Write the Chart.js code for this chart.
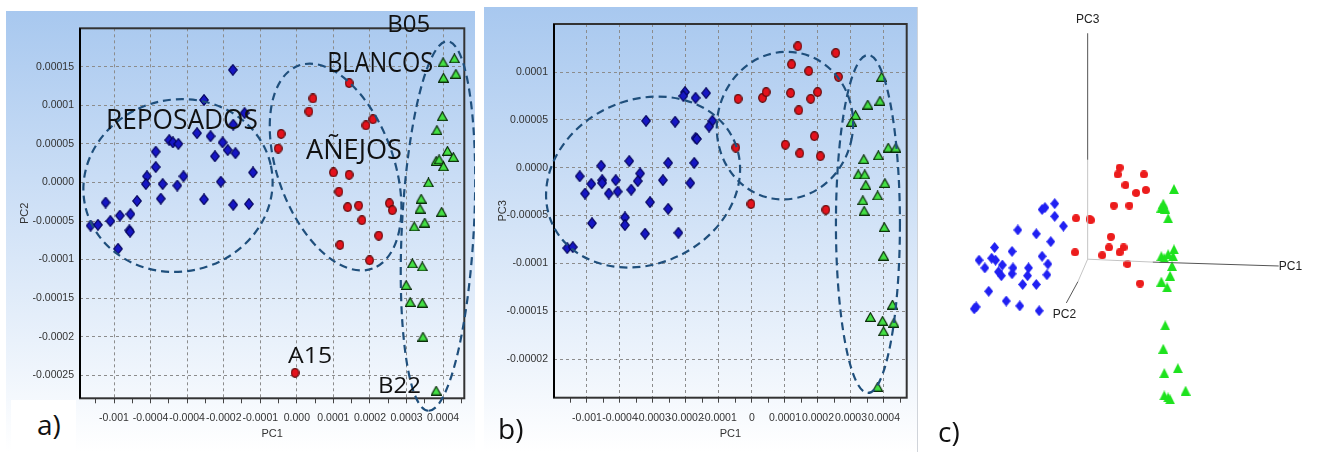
<!DOCTYPE html>
<html>
<head>
<meta charset="utf-8">
<script src="https://cdn.jsdelivr.net/npm/chart.js@4.4.1/dist/chart.umd.min.js"></script>
<style>
  body { margin: 0; width: 1317px; height: 457px; background: #fff; position: relative; overflow: hidden; }
  .panel { position: absolute; }
  #pa { left: 6px; top: 11px; width: 469px; height: 441px; background: linear-gradient(#a8c8ef, #ffffff); }
  #pb { left: 484px; top: 7px; width: 433px; height: 445px; background: linear-gradient(#a8c8ef, #ffffff); border-right: 1px solid #d0d4da; }
  #pc { left: 920px; top: 0; width: 397px; height: 457px; }
  #wa { position: absolute; left: 11px; top: 400px; width: 65px; height: 52px; background: #fff; }
  .tag { position: absolute; font: 28px 'Open Sans', sans-serif; line-height: 28px; color: #111; }
</style>
</head>
<body>
<div class="panel" id="pa"><canvas id="chartA" width="469" height="441"></canvas></div>
<div class="panel" id="pb"><canvas id="chartB" width="433" height="445"></canvas></div>
<div class="panel" id="pc"><canvas id="chartC" width="397" height="457"></canvas></div>
<div id="wa"></div>
<div class="tag" style="left:37px; top:410px;">a)</div>
<div class="tag" style="left:498px; top:414px;">b)</div>
<div class="tag" style="left:938px; top:417px;">c)</div>
<script>
// ---- tick labels ----
const xTickValues = [-5e-4, -4e-4, -3e-4, -2e-4, -1e-4, 0, 1e-4, 2e-4, 3e-4, 4e-4];
const aXTickLabels = ['-0.001', '-0.0004', '-0.0004', '-0.0002', '-0.0001', '0.000', '0.0001', '0.0002', '0.0003', '0.0004'];
const bXTickLabels = ['-0.001', '-0.0004', '-0.0003', '-0.0002', '-0.0001', '0', '0.0001', '0.0002', '0.0003', '0.0004'];
const aYTickValues = [1.5e-4, 1e-4, 5e-5, 0, -5e-5, -1e-4, -1.5e-4, -2e-4, -2.5e-4];
const aYTickLabels = ['0.00015', '0.0001', '0.00005', '0.0000', '-0.00005', '-0.0001', '-0.00015', '-0.0002', '-0.00025'];
const bYTickValues = [1e-4, 5e-5, 0, -5e-5, -1e-4, -1.5e-4, -2e-4];
const bYTickLabels = ['0.0001', '0.00005', '0.0000', '-0.00005', '-0.0001', '-0.00015', '-0.00002'];

// ---- a) PC1 vs PC2 ----
const aReposados = [[-1.75e-4, 1.46e-4], [-2.54e-4, 1.07e-4], [-1.43e-4, 0.90e-4], [-1.74e-4, 0.75e-4], [-2.73e-4, 0.64e-4],
  [-2.36e-4, 0.60e-4], [-3.49e-4, 0.55e-4], [-3.39e-4, 0.52e-4], [-3.24e-4, 0.50e-4], [-2.03e-4, 0.52e-4],
  [-1.89e-4, 0.42e-4], [-1.68e-4, 0.38e-4], [-2.24e-4, 0.34e-4], [-3.86e-4, 0.40e-4], [-3.86e-4, 0.20e-4],
  [-1.20e-4, 0.13e-4], [-4.10e-4, 0.08e-4], [-3.10e-4, 0.08e-4], [-4.13e-4, -0.02e-4], [-3.67e-4, -0.02e-4],
  [-3.27e-4, -0.04e-4], [-2.08e-4, 0.01e-4], [-5.23e-4, -0.26e-4], [-4.37e-4, -0.24e-4], [-3.72e-4, -0.21e-4],
  [-2.54e-4, -0.22e-4], [-1.74e-4, -0.29e-4], [-1.31e-4, -0.28e-4], [-4.84e-4, -0.43e-4], [-4.55e-4, -0.41e-4],
  [-5.10e-4, -0.50e-4], [-5.64e-4, -0.56e-4], [-5.44e-4, -0.55e-4], [-4.58e-4, -0.62e-4], [-4.56e-4, -0.64e-4],
  [-4.89e-4, -0.86e-4]];
const aAnejos = [[1.43e-4, 1.29e-4], [0.44e-4, 1.09e-4], [0.33e-4, 0.92e-4], [2.08e-4, 0.82e-4], [1.89e-4, 0.74e-4],
  [-0.43e-4, 0.63e-4], [-0.51e-4, 0.44e-4], [1.00e-4, 0.13e-4], [1.43e-4, 0.10e-4], [1.15e-4, -0.12e-4],
  [1.39e-4, -0.32e-4], [1.69e-4, -0.30e-4], [2.53e-4, -0.27e-4], [2.61e-4, -0.36e-4], [1.78e-4, -0.49e-4],
  [2.24e-4, -0.69e-4], [1.18e-4, -0.81e-4], [1.99e-4, -1.01e-4], [-0.05e-4, -2.47e-4]];
const aBlancos = [[4.31e-4, 1.61e-4], [4.00e-4, 1.56e-4], [4.01e-4, 1.36e-4], [4.35e-4, 1.41e-4], [3.98e-4, 0.86e-4],
  [3.83e-4, 0.68e-4], [4.12e-4, 0.41e-4], [4.28e-4, 0.33e-4], [3.81e-4, 0.28e-4], [3.89e-4, 0.30e-4],
  [4.01e-4, 0.21e-4], [3.60e-4, 0.00e-4], [3.40e-4, -0.21e-4], [3.37e-4, -0.34e-4], [3.96e-4, -0.38e-4],
  [3.21e-4, -0.57e-4], [3.50e-4, -0.52e-4], [3.16e-4, -1.05e-4], [3.43e-4, -1.09e-4], [2.99e-4, -1.33e-4],
  [3.10e-4, -1.55e-4], [3.43e-4, -1.56e-4], [3.45e-4, -2.00e-4], [3.81e-4, -2.70e-4]];

// ---- b) PC1 vs PC3 ----
const bReposados = [[-2.03e-4, 0.79e-4], [-2.08e-4, 0.75e-4], [-1.71e-4, 0.73e-4], [-1.39e-4, 0.78e-4], [-3.21e-4, 0.49e-4],
  [-2.33e-4, 0.48e-4], [-1.20e-4, 0.49e-4], [-1.30e-4, 0.43e-4], [-1.71e-4, 0.31e-4], [-1.67e-4, 0.30e-4],
  [-4.57e-4, 0.02e-4], [-3.72e-4, 0.07e-4], [-2.54e-4, 0.05e-4], [-1.75e-4, 0.05e-4], [-5.22e-4, -0.09e-4],
  [-4.87e-4, -0.17e-4], [-4.54e-4, -0.13e-4], [-4.54e-4, -0.16e-4], [-4.13e-4, -0.13e-4], [-3.39e-4, -0.06e-4],
  [-3.46e-4, -0.14e-4], [-2.70e-4, -0.13e-4], [-1.87e-4, -0.16e-4], [-5.06e-4, -0.27e-4], [-4.34e-4, -0.27e-4],
  [-4.07e-4, -0.25e-4], [-3.66e-4, -0.23e-4], [-3.09e-4, -0.36e-4], [-2.54e-4, -0.43e-4], [-4.85e-4, -0.58e-4],
  [-3.85e-4, -0.52e-4], [-3.85e-4, -0.60e-4], [-3.24e-4, -0.69e-4], [-2.23e-4, -0.68e-4], [-5.60e-4, -0.84e-4],
  [-5.43e-4, -0.83e-4]];
const bAnejos = [[1.39e-4, 1.27e-4], [2.54e-4, 1.20e-4], [1.20e-4, 1.08e-4], [1.72e-4, 1.01e-4], [2.62e-4, 0.95e-4],
  [-0.42e-4, 0.72e-4], [0.32e-4, 0.73e-4], [0.43e-4, 0.79e-4], [1.17e-4, 0.78e-4], [1.78e-4, 0.72e-4],
  [1.99e-4, 0.79e-4], [1.42e-4, 0.60e-4], [1.89e-4, 0.33e-4], [-0.49e-4, 0.21e-4], [1.01e-4, 0.24e-4],
  [1.45e-4, 0.15e-4], [2.07e-4, 0.12e-4], [-0.03e-4, -0.38e-4], [2.24e-4, -0.44e-4]];
const bBlancos = [[3.93e-4, 0.95e-4], [3.51e-4, 0.66e-4], [3.88e-4, 0.70e-4], [3.14e-4, 0.55e-4], [3.02e-4, 0.48e-4],
  [4.13e-4, 0.21e-4], [4.36e-4, 0.21e-4], [3.83e-4, 0.13e-4], [3.39e-4, 0.09e-4], [3.22e-4, -0.07e-4],
  [3.42e-4, -0.07e-4], [3.45e-4, -0.18e-4], [4.03e-4, -0.16e-4], [3.81e-4, -0.29e-4], [3.36e-4, -0.34e-4],
  [3.40e-4, -0.45e-4], [4.01e-4, -0.62e-4], [3.99e-4, -0.92e-4], [4.26e-4, -1.43e-4], [3.59e-4, -1.56e-4],
  [3.96e-4, -1.60e-4], [4.30e-4, -1.62e-4], [3.99e-4, -1.71e-4], [3.81e-4, -2.29e-4]];

// ---- c) 3D view, projected coordinates ----
const cReposados = [[-0.34, 0.57], [-0.47, 0.51], [-0.44, 0.53], [-0.34, 0.44], [-0.25, 0.34], [-0.72, 0.30],
  [-0.53, 0.26], [-0.38, 0.18], [-0.96, 0.12], [-0.78, 0.08], [-1.12, -0.01], [-0.99, 0.01], [-0.95, -0.01],
  [-1.06, -0.09], [-0.88, -0.06], [-0.47, 0.03], [-0.41, -0.05], [-0.92, -0.13], [-0.89, -0.17], [-0.77, -0.09],
  [-0.78, -0.15], [-0.61, -0.09], [-0.62, -0.17], [-0.42, -0.16], [-0.67, -0.26], [-0.53, -0.26], [-1.02, -0.33],
  [-0.84, -0.43], [-0.70, -0.48], [-0.50, -0.53], [-1.17, -0.51], [-1.15, -0.49]];
const cAnejos = [[0.33, 0.94], [0.31, 0.87], [0.58, 0.87], [0.39, 0.76], [0.50, 0.68], [0.60, 0.71], [0.27, 0.55],
  [0.43, 0.55], [-0.12, 0.42], [0.03, 0.40], [0.02, 0.41], [0.24, 0.23], [0.22, 0.12], [0.33, 0.07], [0.37, 0.12],
  [0.15, 0.04], [-0.13, 0.07], [0.41, -0.05], [0.54, -0.25]];
const cBlancos = [[0.89, 0.72], [0.76, 0.53], [0.80, 0.52], [0.78, 0.57], [0.83, 0.42], [0.76, 0.03], [0.83, 0.05],
  [0.89, 0.10], [0.88, 0.03], [0.79, 0.01], [0.87, -0.07], [0.85, -0.17], [0.76, -0.23], [0.82, -0.29],
  [0.80, -0.68], [0.78, -0.92], [0.79, -1.17], [0.93, -1.12], [1.01, -1.35], [0.79, -1.40], [0.83, -1.42],
  [0.85, -1.44]];
const cAxisPC3 = [[0, 0], [0, 1.02], [0, 2.32]];
const cAxisPC1 = [[0, 0], [0.67, -0.03], [1.97, -0.07]];
const cAxisPC2 = [[0, 0], [-0.10, -0.23], [-0.22, -0.45]];

// ---- helpers ----
const narrow = "'Liberation Sans Narrow', 'Liberation Sans', Arial, sans-serif";
const tickFont = { family: "'Liberation Sans', Arial, sans-serif", size: 10.5 };

function pts(arr) { return arr.map(p => ({ x: p[0], y: p[1] })); }

function marker(shape, w, h, fill, line) {
  const c = document.createElement('canvas');
  c.width = w; c.height = h;
  const g = c.getContext('2d');
  g.beginPath();
  const m = line ? 0.7 : 0;
  if (shape === 'diamond') {
    g.moveTo(w / 2, m); g.lineTo(w - m, h / 2); g.lineTo(w / 2, h - m); g.lineTo(m, h / 2);
  } else if (shape === 'circle') {
    g.ellipse(w / 2, h / 2, w / 2 - m, h / 2 - m, 0, 0, Math.PI * 2);
  } else {
    g.moveTo(w / 2, m); g.lineTo(w - m, h - m); g.lineTo(m, h - m);
  }
  g.closePath();
  g.fillStyle = fill; g.fill();
  if (line) { g.strokeStyle = line; g.lineWidth = 1.2; g.stroke(); }
  return c;
}

function tickList(values, labels, min, max, minor) {
  const out = values.map((v, i) => ({ value: v, lbl: labels[i] }));
  if (minor) {
    const step = Math.abs(values[1] - values[0]);
    const first = Math.min(...values);
    for (let v = first - step / 2; v < max; v += step) {
      if (v > min) out.push({ value: v, lbl: '', minor: true });
    }
  }
  return out.sort((a, b) => a.value - b.value);
}

function decor(ellipses, notes) {
  return {
    id: 'decor',
    beforeDatasetsDraw(chart) {
      const { ctx, chartArea: a } = chart;
      ctx.save();
      ctx.strokeStyle = '#333';
      ctx.lineWidth = 2;
      ctx.strokeRect(a.left, a.top, a.right - a.left, a.bottom - a.top);
      ctx.strokeStyle = '#000';
      ctx.beginPath(); ctx.moveTo(a.left, a.top); ctx.lineTo(a.left, a.bottom); ctx.stroke();
      ctx.restore();
    },
    afterDatasetsDraw(chart) {
      const { ctx, scales } = chart;
      ctx.save();
      ctx.strokeStyle = '#1f4f7c';
      ctx.lineWidth = 2.2;
      ctx.setLineDash([8, 5]);
      ellipses.forEach(e => {
        ctx.beginPath();
        ctx.ellipse(scales.x.getPixelForValue(e.x), scales.y.getPixelForValue(e.y), e.rx, e.ry, e.rot * Math.PI / 180, 0, Math.PI * 2);
        ctx.stroke();
      });
      ctx.restore();
    },
    afterDraw(chart) {
      const { ctx, scales } = chart;
      ctx.save();
      ctx.fillStyle = '#111';
      ctx.textBaseline = 'alphabetic';
      notes.forEach(n => {
        ctx.font = n.size + "px 'Open Sans', sans-serif";
        const px = scales.x.getPixelForValue(n.x), py = scales.y.getPixelForValue(n.y);
        const k = n.w ? n.w / ctx.measureText(n.text).width : 1;
        ctx.save();
        ctx.translate(px, py);
        ctx.scale(k, 1);
        ctx.fillText(n.text, 0, 0);
        ctx.restore();
      });
      ctx.restore();
    }
  };
}

function pcaOptions(lim, xt, yt, yWidth, xHeight, pad, yTitle) {
  return {
    responsive: false,
    animation: false,
    layout: { padding: pad },
    plugins: { legend: { display: false }, tooltip: { enabled: false } },
    scales: {
      x: {
        type: 'linear', min: lim[0], max: lim[1],
        afterBuildTicks: s => { s.ticks = xt.map(t => ({ ...t })); },
        afterFit: s => { s.height = xHeight; },
        ticks: { autoSkip: false, maxRotation: 0, minRotation: 0, padding: 9, color: '#333', font: tickFont,
          callback: (v, i, t) => t[i].lbl },
        grid: { color: c => (c.tick && c.tick.minor) ? 'rgba(0,0,0,0)' : '#8c8c8c', tickColor: '#444', tickLength: 5 },
        border: { display: false, dash: [3, 3] },
        title: { display: true, text: 'PC1', color: '#333', font: { family: tickFont.family, size: 11 }, padding: { top: 0, bottom: 11 } }
      },
      y: {
        type: 'linear', min: lim[2], max: lim[3],
        afterBuildTicks: s => { s.ticks = yt.map(t => ({ ...t })); },
        afterFit: s => { s.width = yWidth; },
        ticks: { autoSkip: false, padding: 6, color: '#333', font: tickFont, callback: (v, i, t) => t[i].lbl },
        grid: { color: '#8c8c8c', drawTicks: false },
        border: { display: false, dash: [3, 3] },
        title: { display: true, text: yTitle, color: '#333', font: { family: tickFont.family, size: 11 }, padding: { top: 12, bottom: 0 } }
      }
    }
  };
}

const mkBlue = marker('diamond', 10, 12, '#1616c4', '#05055e');
const mkRed = marker('circle', 9, 10, '#e3121c', '#5c0a0a');
const mkGreen = marker('triangle', 11, 10, '#44e044', '#0b2e0b');

function pcaSets(rep, ane, bla) {
  return [
    { label: 'REPOSADOS', data: pts(rep), pointStyle: mkBlue, pointRadius: 5 },
    { label: 'AÑEJOS', data: pts(ane), pointStyle: mkRed, pointRadius: 5 },
    { label: 'BLANCOS', data: pts(bla), pointStyle: mkGreen, pointRadius: 5 }
  ];
}

// ---- chart a ----
const aLim = [-5.93e-4, 4.58e-4, -2.8e-4, 2.0e-4];
new Chart(document.getElementById('chartA'), {
  type: 'scatter',
  data: { datasets: pcaSets(aReposados, aAnejos, aBlancos) },
  options: pcaOptions(aLim,
    tickList(xTickValues, aXTickLabels, aLim[0], aLim[1], true),
    tickList(aYTickValues, aYTickLabels, aLim[2], aLim[3], false),
    74, 53.7, { left: 0, top: 17.3, right: 10.7, bottom: 0 }, 'PC2'),
  plugins: [decor(
    [
      { x: -3.25e-4, y: -0.04e-4, rx: 95, ry: 86, rot: -12 },
      { x: 1.06e-4, y: 0.20e-4, rx: 108, ry: 58, rot: 70 },
      { x: 3.86e-4, y: -0.565e-4, rx: 185, ry: 36, rot: 93 }
    ],
    [
      { text: 'REPOSADOS', x: -5.22e-4, y: 0.695e-4, size: 27, w: 152 },
      { text: 'AÑEJOS', x: 0.25e-4, y: 0.305e-4, size: 27, w: 96 },
      { text: 'BLANCOS', x: 0.83e-4, y: 1.435e-4, size: 27, w: 106 },
      { text: 'B05', x: 2.47e-4, y: 1.955e-4, size: 24, w: 43 },
      { text: 'A15', x: -0.24e-4, y: -2.344e-4, size: 22, w: 44 },
      { text: 'B22', x: 2.22e-4, y: -2.734e-4, size: 22, w: 43 }
    ])]
});

// ---- chart b ----
const bLim = [-6.0e-4, 4.69e-4, -2.404e-4, 1.502e-4];
new Chart(document.getElementById('chartB'), {
  type: 'scatter',
  data: { datasets: pcaSets(bReposados, bAnejos, bBlancos) },
  options: pcaOptions(bLim,
    tickList(xTickValues, bXTickLabels, bLim[0], bLim[1], true),
    tickList(bYTickValues, bYTickLabels, bLim[2], bLim[3], false),
    70, 54.3, { left: 0, top: 17, right: 10.3, bottom: 0 }, 'PC3'),
  plugins: [decor(
    [
      { x: -3.30e-4, y: -0.15e-4, rx: 100, ry: 82, rot: -25 },
      { x: 1.0e-4, y: 0.44e-4, rx: 68, ry: 74, rot: 10 },
      { x: 3.515e-4, y: -0.588e-4, rx: 32, ry: 169, rot: 0 }
    ], [])]
});

// ---- chart c ----
const cBlue = marker('diamond', 9, 11, '#2020f2', null);
const cRed = marker('circle', 8, 8, '#ec1c1c', null);
const cGreen = marker('triangle', 10, 10, '#1ee21e', null);

function axisLine(arr, colors) {
  return arr.slice(1).map((p, i) => ({
    type: 'line', data: pts([arr[i], p]), borderColor: colors[i], borderWidth: 1, pointRadius: 0
  }));
}

const axisNames = [
  { text: 'PC3', x: 0.0, y: 2.46, align: 'center' },
  { text: 'PC1', x: 1.97, y: -0.08, align: 'left' },
  { text: 'PC2', x: -0.24, y: -0.575, align: 'center' }
];

new Chart(document.getElementById('chartC'), {
  type: 'scatter',
  data: {
    datasets: [
      ...axisLine(cAxisPC3, ['#c4c4c4', '#555']),
      ...axisLine(cAxisPC1, ['#c4c4c4', '#555']),
      ...axisLine(cAxisPC2, ['#c4c4c4', '#555']),
      { label: 'REPOSADOS', data: pts(cReposados), pointStyle: cBlue, pointRadius: 5 },
      { label: 'AÑEJOS', data: pts(cAnejos), pointStyle: cRed, pointRadius: 5 },
      { label: 'BLANCOS', data: pts(cBlancos), pointStyle: cGreen, pointRadius: 5 }
    ]
  },
  options: {
    responsive: false,
    animation: false,
    layout: { padding: 0 },
    plugins: { legend: { display: false }, tooltip: { enabled: false } },
    scales: {
      x: { type: 'linear', display: false, min: -1.667, max: 2.303 },
      y: { type: 'linear', display: false, min: -1.97, max: 2.6 }
    }
  },
  plugins: [{
    id: 'axisNames',
    afterDraw(chart) {
      const { ctx, scales } = chart;
      ctx.save();
      ctx.fillStyle = '#222';
      ctx.font = '12px ' + narrow;
      ctx.textBaseline = 'middle';
      axisNames.forEach(n => {
        ctx.textAlign = n.align;
        ctx.fillText(n.text, scales.x.getPixelForValue(n.x), scales.y.getPixelForValue(n.y));
      });
      ctx.restore();
    }
  }]
});
</script>
</body>
</html>
